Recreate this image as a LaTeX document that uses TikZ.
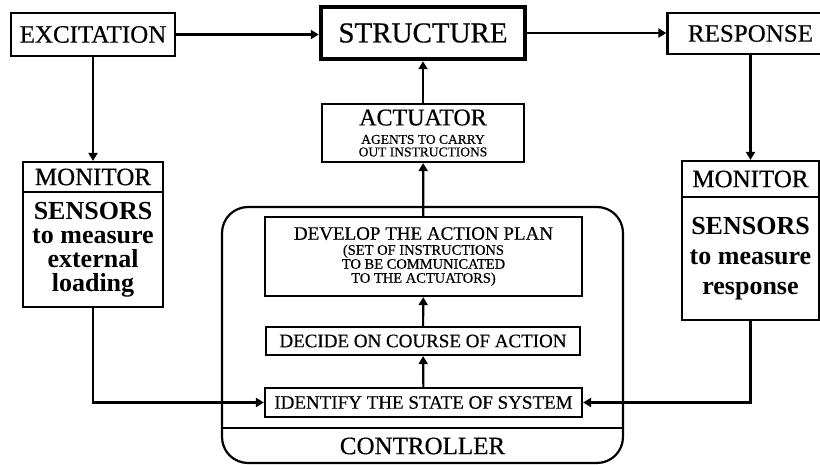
\documentclass[tikz,border=0pt]{standalone}
\usepackage{fontspec}
\setmainfont{Liberation Serif}
\newfontface\hvy{Liberation Serif}[FakeBold=0.5]
\usetikzlibrary{arrows.meta}
\newcommand{\hd}{\hvy\fontsize{25}{25}\selectfont}
\newcommand{\stp}{\hvy\fontsize{19}{19}\selectfont}
\newcommand{\sml}[2]{\hvy\fontsize{#1}{#2}\selectfont}
\tikzset{
  blk/.style={draw, line width=2.2pt, inner sep=0pt, align=center},
  conn/.style={line width=2.2pt, -{Triangle[length=8pt,width=9pt]}},
}

\begin{document}
\begin{tikzpicture}[x=1pt,y=-1pt]
    \useasboundingbox (0,0) rectangle (820,465);
    % controller frame
    \node[blk, rounded corners=26pt, minimum width=401pt, minimum height=256pt] (CTRL) at (422.5,335) {};
    \draw[line width=2.2pt] (CTRL.west |- 0,428) -- (CTRL.east |- 0,428);
    \node[font=\hd] (CTRLlbl) at (422.5,446) {CONTROLLER};
    % top row
    \node[blk, font=\hd, minimum width=164pt, minimum height=43pt] (EXC) at (93,34.5) {EXCITATION};
    \node[blk, line width=4.5pt, font=\hvy\fontsize{29}{29}\selectfont, minimum width=204pt, minimum height=52pt] (STR) at (423,33) {STRUCTURE};
    \node[blk, font=\hd, minimum width=166pt, minimum height=41pt] (RES) at (750.5,33.5) {RESPONSE};
    % monitors
    \node[blk, font=\hd, minimum width=140pt, minimum height=30pt] (MONLh) at (93,177) {MONITOR};
    \node[blk, font=\bfseries\fontsize{26}{24}\selectfont, minimum width=140pt, minimum height=115pt] (MONLb) at (93,249.5) {SENSORS\\to measure\\external\\loading};
    \node[blk, font=\hd, minimum width=137pt, minimum height=36pt] (MONRh) at (750.5,179) {MONITOR};
    \node[blk, font=\bfseries\fontsize{26}{30}\selectfont, minimum width=137pt, minimum height=123pt] (MONRb) at (750.5,258.5) {SENSORS\\to measure\\response};
    % actuator and controller steps
    \node[blk, font=\sml{13.5}{12.5}, minimum width=202pt, minimum height=58pt] (ACT) at (423,133) {{\fontsize{24}{24}\selectfont ACTUATOR}\\[6pt]AGENTS TO CARRY\\OUT INSTRUCTIONS};
    \node[blk, font=\sml{14.5}{14}, minimum width=317pt, minimum height=79pt] (DEV) at (423.5,256.5) {{\stp DEVELOP THE ACTION PLAN}\\[1pt](SET OF INSTRUCTIONS\\TO BE COMMUNICATED\\TO THE ACTUATORS)};
    \node[blk, font=\stp, minimum width=314pt, minimum height=28pt] (DEC) at (423,341) {DECIDE ON COURSE OF ACTION};
    \node[blk, font=\stp, minimum width=317pt, minimum height=29pt] (IDF) at (423.5,402.5) {IDENTIFY THE STATE OF SYSTEM};
    % connectors
    \draw[conn] (EXC.east) -- (EXC.east -| STR.west);
    \draw[conn] (STR.east) -- (STR.east -| RES.west);
    \draw[conn] (EXC.south) -- (MONLh.north);
    \draw[conn] (RES.south) -- (MONRh.north);
    \draw[conn] (MONLb.south) |- (IDF.west);
    \draw[conn] (MONRb.south) |- (IDF.east);
    \draw[conn] (IDF) -- (DEC);
    \draw[conn] (DEC) -- (DEV);
    \draw[conn] (DEV) -- (ACT);
    \draw[conn] (ACT) -- (STR);
\end{tikzpicture}
\end{document}
